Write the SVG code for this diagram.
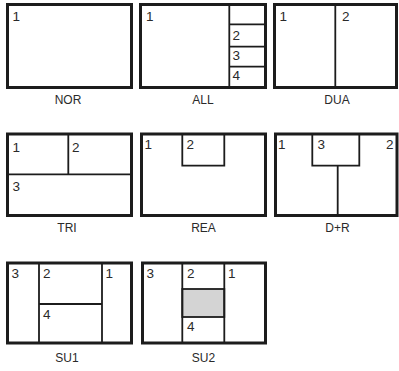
<svg xmlns="http://www.w3.org/2000/svg" width="399" height="371" viewBox="0 0 399 371">
<style>
.frame{fill:#fff;stroke:#1c1c1c;stroke-width:3}
.div{fill:none;stroke:#1c1c1c;stroke-width:1.8}
.num{font-family:"Liberation Sans",Arial,sans-serif;font-size:13.5px;fill:#2a2a2a}
.lab{font-family:"Liberation Sans",Arial,sans-serif;font-size:12px;fill:#2a2a2a;text-anchor:middle}
</style>
<rect width="399" height="371" fill="#fff"/>
<g id="NOR">
<rect class="frame" x="7.5" y="4.5" width="124" height="83"/>
<text class="num" x="12.5" y="21">1</text>
<text class="lab" x="68" y="104">NOR</text>
</g>
<g id="ALL">
<rect class="frame" x="140.5" y="4.5" width="125" height="83"/>
<path class="div" d="M229.3 4.5V87.5M229.3 24.3H265.5M229.3 46.7H265.5M229.3 66.7H265.5"/>
<text class="num" x="146" y="21">1</text>
<text class="num" x="232.5" y="40">2</text>
<text class="num" x="232.5" y="60">3</text>
<text class="num" x="232.5" y="80">4</text>
<text class="lab" x="203" y="104">ALL</text>
</g>
<g id="DUA">
<rect class="frame" x="274.5" y="4.5" width="122" height="83"/>
<path class="div" d="M335.3 4.5V87.5"/>
<text class="num" x="279.5" y="21">1</text>
<text class="num" x="342" y="21">2</text>
<text class="lab" x="337" y="104">DUA</text>
</g>
<g id="TRI">
<rect class="frame" x="7.5" y="134" width="124" height="81.5"/>
<path class="div" d="M68.3 134V174.3M7.5 174.3H131.5"/>
<text class="num" x="12.5" y="151.5">1</text>
<text class="num" x="72" y="151.5">2</text>
<text class="num" x="12.5" y="191">3</text>
<text class="lab" x="67" y="231.5">TRI</text>
</g>
<g id="REA">
<rect class="frame" x="141.5" y="134" width="124" height="81.5"/>
<path class="div" d="M182.3 134V165.7H224.3V134"/>
<text class="num" x="144.5" y="148.5">1</text>
<text class="num" x="186.5" y="148.5">2</text>
<text class="lab" x="203.5" y="231.5">REA</text>
</g>
<g id="DR">
<rect class="frame" x="275.5" y="134" width="121.5" height="81.5"/>
<path class="div" d="M312.3 134V165.7H359.3V134M337.7 165.7V215.5"/>
<text class="num" x="278" y="148.5">1</text>
<text class="num" x="317.5" y="148.5">3</text>
<text class="num" x="386" y="148.5">2</text>
<text class="lab" x="337.5" y="231.5">D+R</text>
</g>
<g id="SU1">
<rect class="frame" x="7.5" y="263" width="124" height="80"/>
<path class="div" d="M39 263V343M102 263V343M39 304H102"/>
<text class="num" x="11.5" y="277.5">3</text>
<text class="num" x="43" y="277.5">2</text>
<text class="num" x="105.5" y="277.5">1</text>
<text class="num" x="43" y="319">4</text>
<text class="lab" x="67" y="362">SU1</text>
</g>
<g id="SU2">
<rect class="frame" x="142.5" y="263" width="123" height="80"/>
<rect x="182.3" y="289" width="42" height="28" fill="#d4d4d4" stroke="#1c1c1c" stroke-width="1.8"/>
<path class="div" d="M182.3 263V343M224.3 263V343"/>
<text class="num" x="146.5" y="277.5">3</text>
<text class="num" x="187" y="277.5">2</text>
<text class="num" x="228" y="277.5">1</text>
<text class="num" x="187" y="331">4</text>
<text class="lab" x="203.5" y="362">SU2</text>
</g>
<g id="connectors"/>
</svg>
